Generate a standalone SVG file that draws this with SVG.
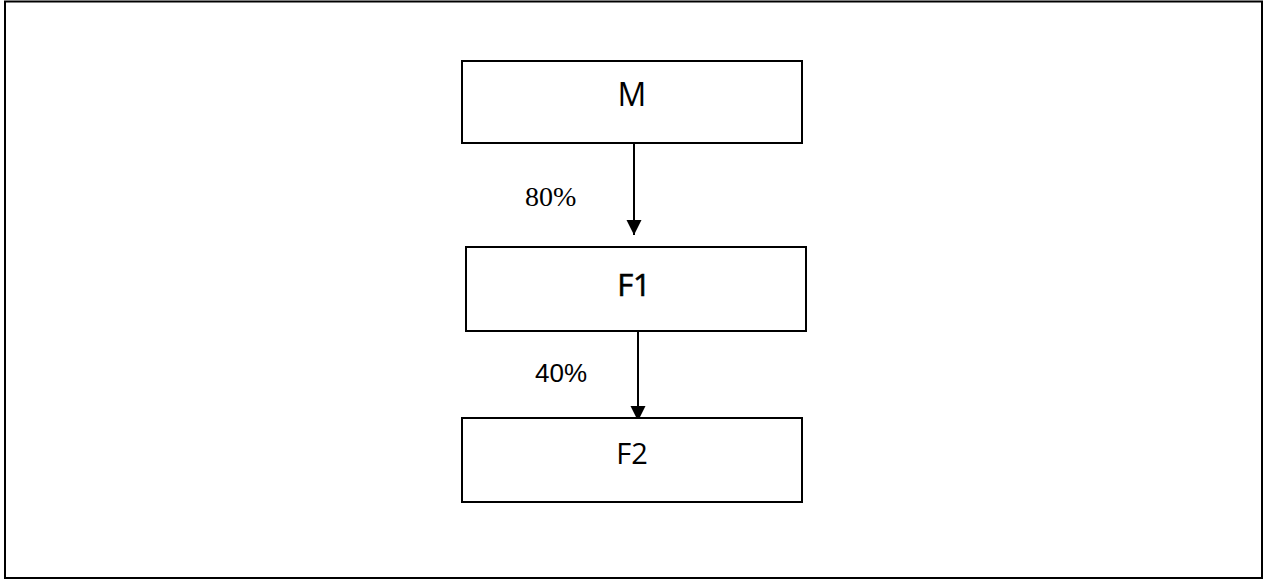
<svg xmlns="http://www.w3.org/2000/svg" width="1264" height="580" viewBox="0 0 1264 580">
  <style>
    .box { fill: #fff; stroke: #000; stroke-width: 2; }
    .edge { stroke: #000; stroke-width: 2; fill: none; }
    .sans { font-family: "Liberation Sans", Arial, sans-serif; fill: #000; }
    .serif { font-family: "Liberation Serif", "Times New Roman", serif; fill: #000; }
    .node { font-family: "Open Sans", "Noto Sans", sans-serif; fill: #000; }
  </style>
  <defs>
    <marker id="arrow" viewBox="0 0 10 10" refX="10" refY="5" markerWidth="7.5" markerHeight="8" markerUnits="strokeWidth" orient="auto">
      <path d="M0,0 L10,5 L0,10 Z" fill="#000"/>
    </marker>
  </defs>
  <rect x="0" y="0" width="1264" height="580" fill="#fff"/>
  <!-- outer frame -->
  <rect x="5" y="1.5" width="1257" height="576.5" fill="none" stroke="#000" stroke-width="2"/>

  <g id="connectors">
    <line class="edge" x1="634" y1="144" x2="634" y2="235" marker-end="url(#arrow)"/>
    <line class="edge" x1="638" y1="332" x2="638" y2="421" marker-end="url(#arrow)"/>
    <text class="serif" x="525" y="206" font-size="28">80%</text>
    <text class="sans" x="535" y="382" font-size="26">40%</text>
  </g>

  <g id="node-M">
    <rect class="box" x="462" y="61" width="340" height="82"/>
    <text class="node" x="632" y="106" font-size="32" text-anchor="middle">M</text>
  </g>
  <g id="node-F1">
    <rect class="box" x="466" y="247" width="340" height="84" stroke-width="3"/>
    <text class="node" x="634" y="296" font-size="31" stroke="#000" stroke-width="0.6" text-anchor="middle">F1</text>
  </g>
  <g id="node-F2">
    <rect class="box" x="462" y="418" width="340" height="84"/>
    <text class="node" x="632" y="464" font-size="29" text-anchor="middle">F2</text>
  </g>
</svg>
